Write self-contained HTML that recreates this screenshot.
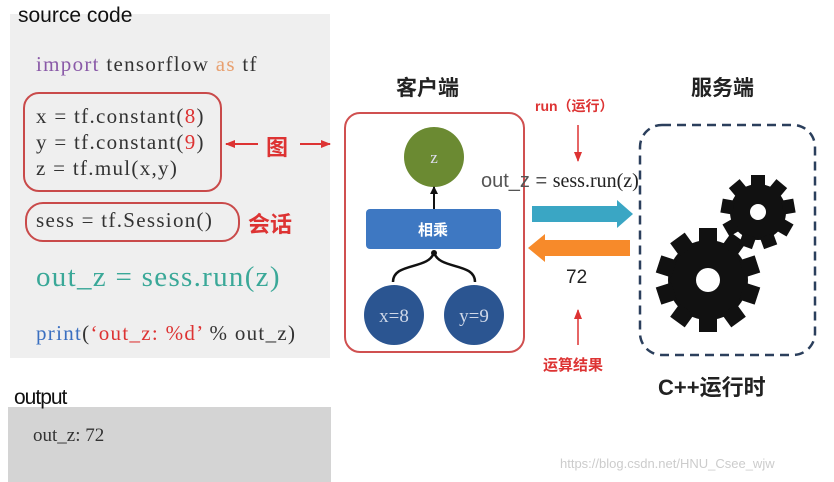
<!DOCTYPE html>
<html><head><meta charset="utf-8"><style>
body{margin:0;width:834px;height:482px;background:#fff;position:relative;overflow:hidden;font-family:"Liberation Serif","Noto Serif CJK SC",serif}
.a{position:absolute;white-space:nowrap}
.s{font-family:"Liberation Sans","Noto Sans CJK SC",sans-serif}
.c{font-size:21px;letter-spacing:1.3px;color:#333}
</style></head><body>
<div class="a" style="left:10px;top:14px;width:320px;height:344px;background:#efefef"></div>
<div class="a" style="left:8px;top:407px;width:323px;height:75px;background:#d4d4d4"></div>
<div class="a s" style="left:18px;top:4px;font-size:21px;color:#111">source code</div>
<div class="a s" style="left:14px;top:386px;font-size:21px;color:#111;letter-spacing:-1px">output</div>
<div class="a" style="left:33px;top:425px;font-size:19px;color:#333">out_z: 72</div>
<div class="a c" style="left:36px;top:52px"><span style="color:#8a5aa8">import</span> tensorflow <span style="color:#e8a070">as</span> tf</div>
<div class="a c" style="left:36px;top:103px;line-height:26px">x = tf.constant(<span style="color:#d33">8</span>)<br>y = tf.constant(<span style="color:#d33">9</span>)<br>z = tf.mul(x,y)</div>
<div class="a" style="left:23px;top:92px;width:195px;height:96px;border:2px solid #c94a4a;border-radius:16px"></div>
<div class="a c" style="left:36px;top:208px">sess = tf.Session()</div>
<div class="a" style="left:25px;top:202px;width:211px;height:36px;border:2px solid #c94a4a;border-radius:18px"></div>
<div class="a s" style="left:248px;top:207px;font-size:22px;font-weight:bold;color:#d33">会话</div>
<div class="a s" style="left:266px;top:130px;font-size:22px;font-weight:bold;color:#d33">图</div>
<div class="a" style="left:36px;top:261px;font-size:29px;letter-spacing:1.3px;color:#3aa898">out_z = sess.run(z)</div>
<div class="a c" style="left:36px;top:321px"><span style="color:#3a6fc0">print</span>(<span style="color:#d33">‘out_z: %d’</span> % out_z)</div>
<svg class="a" style="left:0;top:0" width="834" height="482">
<defs><marker id="r" markerUnits="userSpaceOnUse" markerWidth="10" markerHeight="8" refX="9" refY="4" orient="auto"><path d="M0,0L10,4L0,8z" fill="#d33"/></marker>
<marker id="k" markerUnits="userSpaceOnUse" markerWidth="8" markerHeight="8" refX="7" refY="4" orient="auto"><path d="M0,0L8,4L0,8z" fill="#111"/></marker></defs>
<line x1="258" y1="144" x2="226" y2="144" stroke="#d33" stroke-width="2" marker-end="url(#r)"/>
<line x1="300" y1="144" x2="330" y2="144" stroke="#d33" stroke-width="2" marker-end="url(#r)"/>
<rect x="345" y="113" width="179" height="239" rx="15" fill="none" stroke="#d05050" stroke-width="2"/>
<circle cx="434" cy="157" r="30" fill="#6b8a32"/>
<text x="434" y="163" font-size="17" fill="#dde" text-anchor="middle" font-family="Liberation Serif">z</text>
<line x1="434" y1="209" x2="434" y2="187" stroke="#111" stroke-width="2" marker-end="url(#k)"/>
<rect x="366" y="209" width="135" height="40" rx="4" fill="#3e78c2"/>
<text x="433" y="235" font-size="15" fill="#fff" font-weight="bold" text-anchor="middle" font-family="Noto Sans CJK SC">相乘</text>
<path d="M393,282 C393,262 430,270 434,252 C438,270 475,262 475,282" fill="none" stroke="#111" stroke-width="2.5"/>
<circle cx="434" cy="253" r="3" fill="#111"/>
<circle cx="394" cy="315" r="30" fill="#2b5591"/>
<circle cx="474" cy="315" r="30" fill="#2b5591"/>
<text x="394" y="322" font-size="19" fill="#cfd8e8" text-anchor="middle" font-family="Liberation Serif">x=8</text>
<text x="474" y="322" font-size="19" fill="#cfd8e8" text-anchor="middle" font-family="Liberation Serif">y=9</text>
<line x1="578" y1="125" x2="578" y2="161" stroke="#d33" stroke-width="1.5" marker-end="url(#r)"/>
<line x1="578" y1="345" x2="578" y2="310" stroke="#d33" stroke-width="1.5" marker-end="url(#r)"/>
<path d="M532,206H617V200L633,214L617,228V222H532Z" fill="#3aa6c4"/>
<path d="M630,240H545V234L528,248L545,262V256H630Z" fill="#f78a2a"/>
<rect x="640" y="125" width="175" height="230" rx="22" fill="none" stroke="#2b3f5c" stroke-width="2.5" stroke-dasharray="9,6"/>
<g fill="#111">
<g transform="translate(708,280)">
<circle r="40"/>
<g id="t"><rect x="-9" y="-52" width="18" height="16"/></g>
<use href="#t" transform="rotate(36)"/><use href="#t" transform="rotate(72)"/><use href="#t" transform="rotate(108)"/><use href="#t" transform="rotate(144)"/><use href="#t" transform="rotate(180)"/><use href="#t" transform="rotate(216)"/><use href="#t" transform="rotate(252)"/><use href="#t" transform="rotate(288)"/><use href="#t" transform="rotate(324)"/>
<circle r="12" fill="#fff"/>
</g>
<g transform="translate(758,212)">
<circle r="28"/>
<g id="u"><rect x="-7" y="-37" width="14" height="12"/></g>
<use href="#u" transform="rotate(40)"/><use href="#u" transform="rotate(80)"/><use href="#u" transform="rotate(120)"/><use href="#u" transform="rotate(160)"/><use href="#u" transform="rotate(200)"/><use href="#u" transform="rotate(240)"/><use href="#u" transform="rotate(280)"/><use href="#u" transform="rotate(320)"/>
<circle r="8" fill="#fff"/>
</g></g>
</svg>
<div class="a s" style="left:396px;top:72px;font-size:21px;font-weight:bold;color:#222">客户端</div>
<div class="a s" style="left:691px;top:72px;font-size:21px;font-weight:bold;color:#222">服务端</div>
<div class="a s" style="left:535px;top:96px;font-size:14px;font-weight:bold;color:#d33">run（运行）</div>
<div class="a" style="left:481px;top:170px;font-size:20px;color:#222"><span class="s" style="color:#555">out_z = </span>sess.run(z)</div>
<div class="a s" style="left:566px;top:267px;font-size:19px;color:#222">72</div>
<div class="a s" style="left:543px;top:354px;font-size:15px;font-weight:bold;color:#d33">运算结果</div>
<div class="a s" style="left:658px;top:370px;font-size:22px;font-weight:bold;color:#222">C++运行时</div>
<div class="a s" style="left:560px;top:456px;font-size:13px;color:#ccc">https://blog.csdn.net/HNU_Csee_wjw</div>
</body></html>
